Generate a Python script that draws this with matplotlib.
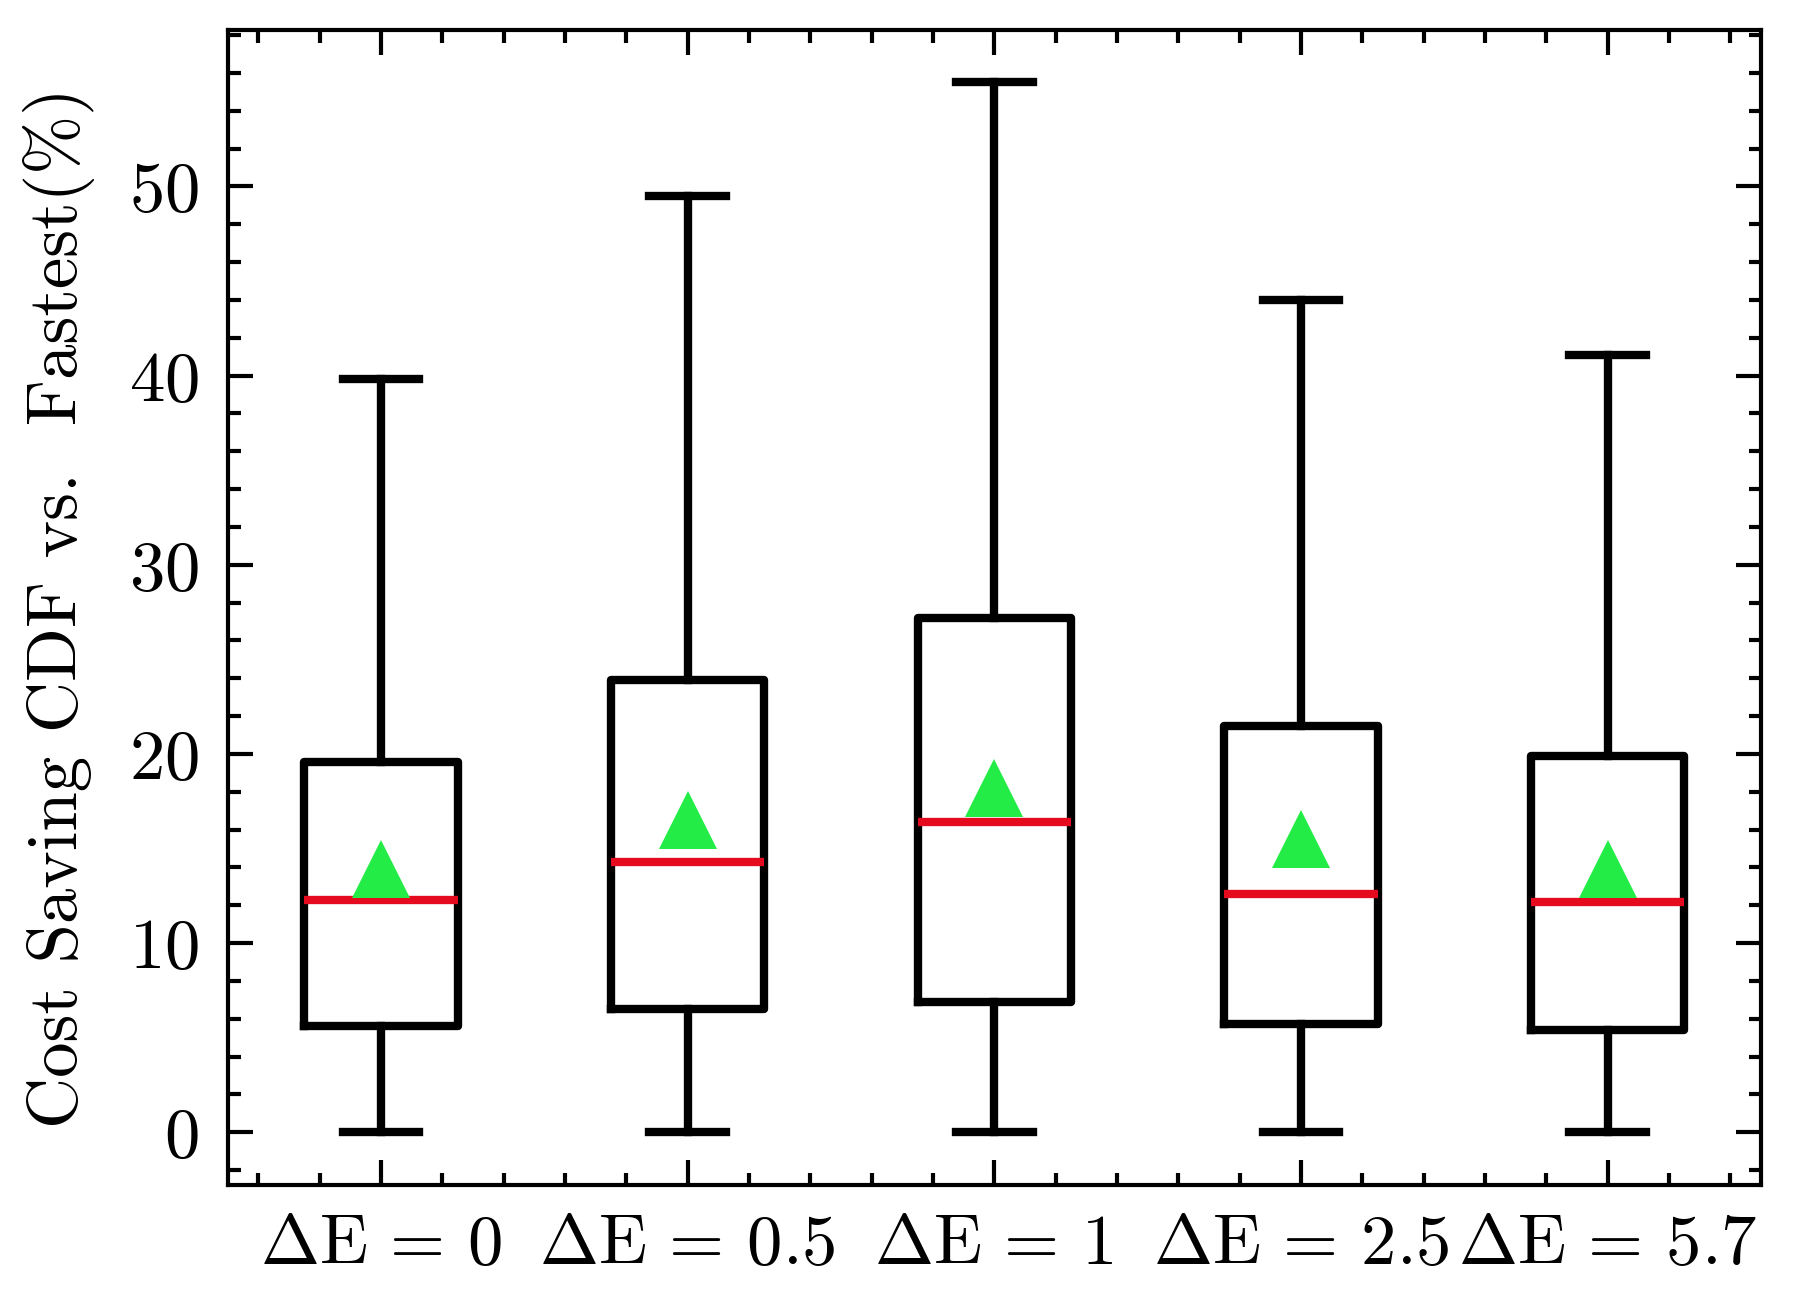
import matplotlib
matplotlib.use("Agg")
import matplotlib.pyplot as plt
from matplotlib.ticker import AutoMinorLocator, MultipleLocator

plt.rcParams.update({
    "font.family": "serif",
    "font.serif": ["cmr10"],
    "mathtext.fontset": "cm",
    "axes.unicode_minus": False,
    "axes.formatter.use_mathtext": True,
    "font.size": 8,
})

labels = [r"$\Delta\mathrm{E}\,=\,0$", r"$\Delta\mathrm{E}\,=\,0.5$", r"$\Delta\mathrm{E}\,=\,1$",
          r"$\Delta\mathrm{E}\,=\,2.5$", r"$\Delta\mathrm{E}\,=\,5.7$"]
whislo = [0.0, 0.0, 0.0, 0.0, 0.0]
q1 = [5.6, 6.5, 6.9, 5.7, 5.4]
med = [12.3, 14.3, 16.4, 12.6, 12.2]
q3 = [19.6, 23.9, 27.2, 21.5, 19.9]
whishi = [39.8, 49.5, 55.5, 44.0, 41.1]
means = [13.9, 16.5, 18.2, 15.5, 13.9]

stats = [dict(label=l, whislo=a, q1=b, med=c, q3=d, whishi=e, mean=m, fliers=[])
         for l, a, b, c, d, e, m in zip(labels, whislo, q1, med, q3, whishi, means)]

fig = plt.figure(figsize=(1793 / 600, 1301 / 600), dpi=600)
ax = fig.add_axes([0.127, 0.0893, 0.8551, 0.8877])

lw = 1.0
ax.bxp(stats, showmeans=True, showfliers=False,
       boxprops=dict(color="black", linewidth=lw),
       whiskerprops=dict(color="black", linewidth=lw),
       capprops=dict(color="black", linewidth=lw),
       medianprops=dict(color="#e60a1e", linewidth=1.0),
       meanprops=dict(marker="^", markerfacecolor="#24ec47", markeredgecolor="none",
                      markersize=7.0))

ax.set_ylabel("Cost Saving CDF vs.  Fastest(%)", fontsize=8.5, labelpad=4)
ax.yaxis.set_major_locator(MultipleLocator(10))
ax.yaxis.set_minor_locator(AutoMinorLocator(5))
ax.xaxis.set_minor_locator(AutoMinorLocator(5))
ax.tick_params(which="both", direction="in", top=True, right=True, width=0.5)
ax.tick_params(which="major", length=3, labelsize=8.5)
ax.tick_params(which="minor", length=1.5)
for s in ax.spines.values():
    s.set_linewidth(0.5)

fig.savefig("out.png", dpi=600)
